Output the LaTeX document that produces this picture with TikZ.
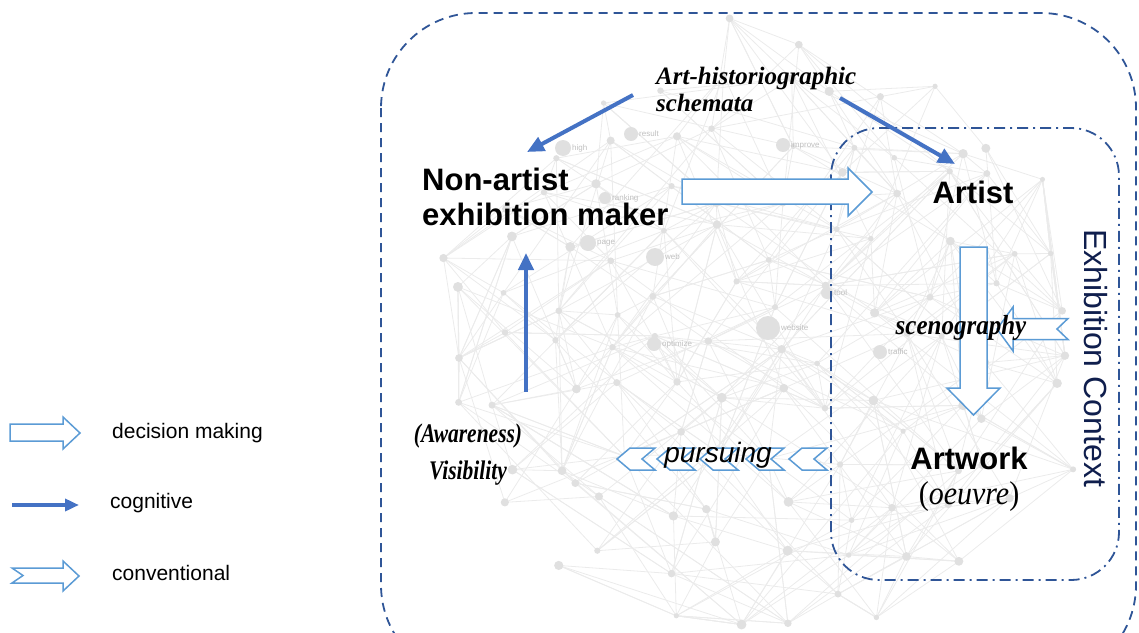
\documentclass[tikz,border=0pt]{standalone}
\usepackage{fontspec}
\setmainfont{Liberation Serif}
\setsansfont{Liberation Sans}
\usetikzlibrary{arrows.meta}
\definecolor{cogblue}{HTML}{4472C4}
\definecolor{outblue}{HTML}{5B9BD5}
\definecolor{frameblue}{HTML}{2F5597}
\definecolor{ctxnavy}{HTML}{0F1E4D}
\newcommand{\tallline}[2][1.25]{\scalebox{1}[#1]{#2}}

\begin{document}
\begin{tikzpicture}[x=1pt, y=-1pt,
    declare function={inside(\a,\b)=(((450+55*\a-765)/330)^2+((35+52*\b-330)/300)^2<1);},
    netline/.style={black!8, line width=0.8pt},
    netdot/.style={black!12},
    netlabel/.style={black!25, font=\sffamily\fontsize{8}{9}\selectfont, inner sep=1pt, anchor=west},
    bigsans/.style={font=\sffamily\bfseries\fontsize{31}{35}\selectfont, inner sep=0pt},
    serifbi/.style={font=\rmfamily\bfseries\itshape\fontsize{#1}{27}\selectfont, inner sep=0pt},
    legendtext/.style={font=\sffamily\fontsize{21}{24}\selectfont, inner sep=0pt, anchor=west},
    cognitive/.style={cogblue, line width=4pt, -{Triangle[length=17pt,width=15pt]}},
    hollow/.style={outblue, line width=1.5pt, fill=white, line join=miter},
    outerframe/.style={frameblue, line width=1.8pt, dash pattern=on 9pt off 6pt, rounded corners=95pt},
    innerframe/.style={frameblue, line width=1.8pt, dash pattern=on 11pt off 5pt on 2pt off 5pt, rounded corners=48pt}
  ]
    \useasboundingbox (0,0) rectangle (1139,632);
    \clip (0,0) rectangle (1139,632);

    % background network
    \pgfmathsetseed{7}
    \foreach \i in {0,...,11}{
      \foreach \j in {0,...,11}{
        \pgfmathsetmacro\gx{450+55*\i+20*rand}
        \pgfmathsetmacro\gy{35+52*\j+20*rand}
        \coordinate (g-\i-\j) at (\gx,\gy);
      }
    }
    \foreach \i in {0,...,11}{
      \foreach \j in {0,...,11}{
        \pgfmathtruncatemacro\ok{inside(\i,\j)}
        \ifnum\ok=1
          \foreach \k in {1,...,6}{
            \pgfmathtruncatemacro\ri{max(0,min(11,\i+random(0,6)-3))}
            \pgfmathtruncatemacro\rj{max(0,min(11,\j+random(0,6)-3))}
            \pgfmathtruncatemacro\okk{inside(\ri,\rj)}
            \ifnum\okk=1 \draw[netline] (g-\i-\j) -- (g-\ri-\rj); \fi
          }
        \fi
      }
    }
    \foreach \i in {0,...,11}{
      \foreach \j in {0,...,11}{
        \pgfmathtruncatemacro\ok{inside(\i,\j)}
        \ifnum\ok=1 \fill[netdot] (g-\i-\j) circle ({2.5+2.5*rnd}); \fi
      }
    }
    \foreach \p/\x/\y/\r in {result/631/134/7, high/563/148/8, improve/783/145/7,
        ranking/605/198/6, page/588/243/8, web/655/257/9, website/768/328/12,
        optimize/654/344/7, tool/827/293/6, traffic/880/352/7}{
      \fill[netdot] (\x,\y) circle (\r);
      \node[netlabel] (n-\p) at (\x+\r,\y) {\p};
    }

    \draw[outerframe] (381,13) rectangle (1136,680);
    \draw[innerframe] (831,128) rectangle (1119,580);

    \draw[hollow] (682,179) -- (848,179) -- (848,168) -- (872,192) -- (848,216) -- (848,204) -- (682,204) -- cycle;
    \draw[hollow] (960,247) -- (987,247) -- (987,388) -- (1000,388) -- (973.5,415) -- (947,388) -- (960,388) -- cycle;
    \draw[hollow] (997,329) -- (1013,307) -- (1013,318.5) -- (1068,318.5) -- (1057,329) -- (1068,339.5) -- (1013,339.5) -- (1013,351) -- cycle;
    \foreach \t in {617,657,700,746,789}
      \draw[hollow] (\t,459) -- (\t+13,448) -- (\t+38,448) -- (\t+25,459) -- (\t+38,470) -- (\t+13,470) -- cycle;

    \coordinate (sch-left) at (633,95);
    \coordinate (maker-top) at (527,152);
    \coordinate (sch-right) at (840,98);
    \coordinate (artist-top) at (955,164);
    \coordinate (vis-top) at (526,392);
    \coordinate (maker-bottom) at (526,253);
    \draw[cognitive] (sch-left) -- (maker-top);
    \draw[cognitive] (sch-right) -- (artist-top);
    \draw[cognitive] (vis-top) -- (maker-bottom);

    \node[bigsans, anchor=west, align=left] (maker) at (422,197) {Non-artist\\exhibition maker};
    \node[bigsans] (artist) at (973,192) {Artist};
    \node[bigsans, align=center] (artwork) at (969,479) {Artwork\\{\rmfamily\mdseries\fontsize{30}{35}\selectfont\tallline[1.1]{(\textit{oeuvre})}}};
    \node[serifbi=25, anchor=west, align=left] (schemata) at (656,89) {Art-historiographic\\schemata};
    \node[serifbi=21.5, align=center] (visibility) at (468,455) {\tallline{(Awareness)}\\[10pt]\tallline{Visibility}};
    \node[serifbi=25] (scenography) at (961,328) {\tallline[1.1]{scenography}};
    \node[font=\sffamily\itshape\fontsize{28}{32}\selectfont, inner sep=0pt] (pursuing) at (718,455) {pursuing};
    \node[font=\sffamily\fontsize{32}{35}\selectfont, text=ctxnavy, inner sep=0pt, rotate=-90] (context) at (1096,358) {Exhibition Context};

    \draw[hollow] (10,424) -- (63,424) -- (63,417) -- (80,433) -- (63,449) -- (63,441) -- (10,441) -- cycle;
    \node[legendtext] (decision) at (112,433) {decision making};
    \coordinate (lc-start) at (12,505);
    \coordinate (lc-end) at (79,505);
    \draw[cognitive, -{Triangle[length=14pt,width=12pt]}] (lc-start) -- (lc-end);
    \node[legendtext] (cognitive) at (110,503) {cognitive};
    \draw[hollow] (12,568) -- (63,568) -- (63,561) -- (79,576) -- (63,591) -- (63,583) -- (12,583) -- (23,575.5) -- cycle;
    \node[legendtext] (conventional) at (112,573) {conventional};
  \end{tikzpicture}
\end{document}
